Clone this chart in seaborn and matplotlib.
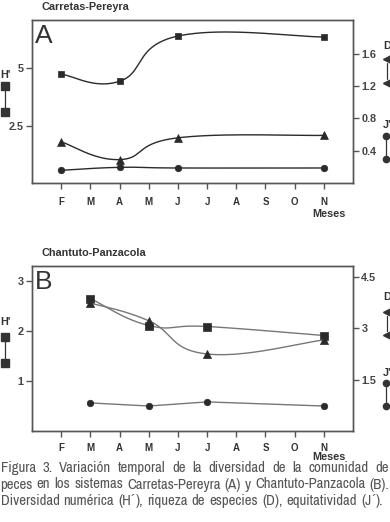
import numpy as np
import pandas as pd
import matplotlib
matplotlib.use("Agg")
import matplotlib.pyplot as plt
from matplotlib import font_manager
import seaborn as sns

sns.set_theme(style="white")

# ---- find a regular condensed family for the caption (if installed) ----
def _w(v):
    if isinstance(v, str):
        return font_manager.weight_dict.get(v, 400)
    return int(v)

_cands = {}
for _f in font_manager.fontManager.ttflist:
    if "Narrow" in _f.name or "Condensed" in _f.name:
        _cands.setdefault(_f.name, set()).add(_w(_f.weight))
_reg_narrow = sorted([n for n, ws in _cands.items() if any(350 <= w <= 500 for w in ws)])
CAP_FAM = [_reg_narrow[0]] if _reg_narrow else ([list(_cands)[0]] if _cands else [])
CAP_FAM += ["Liberation Sans", "DejaVu Sans"]
plt.rcParams['font.family'] = ["Liberation Sans", "DejaVu Sans"]

# ---------------- data ----------------
months = ["F", "M", "A", "M", "J", "J", "A", "S", "O", "N"]

# Panel A: Carretas-Pereyra (sampled at F, A, J, N)
a_pos = [0, 2, 4, 9]
a_H = [4.74, 4.43, 6.40, 6.36]     # left axis (squares)
a_D = [0.51, 0.29, 0.56, 0.59]     # right axis (triangles)
a_J = [0.157, 0.194, 0.186, 0.186] # right axis (circles)

# Panel B: Chantuto-Panzacola (sampled at M, M, J, N)
b_pos = [1, 3, 5, 9]
b_H = [2.65, 2.11, 2.09, 1.91]
b_D = [3.74, 3.22, 2.25, 2.66]
b_J = [0.82, 0.73, 0.85, 0.73]

caption_lines = [
    "Figura 3. Variación temporal de la diversidad de la comunidad de",
    "peces en los sistemas Carretas-Pereyra (A) y Chantuto-Panzacola (B).",
    "Diversidad numérica (H´), riqueza de especies (D), equitatividad (J´).",
]

W, H = 390, 522
fig = plt.figure(figsize=(W / 100, H / 100), dpi=100)


def catmull(x, y, n=60, k=1.3):
    """Cardinal (Catmull-Rom style) smoothing through the data points."""
    P = np.column_stack([np.asarray(x, float), np.asarray(y, float)])
    P = np.vstack([P[0], P, P[-1]])
    out = []
    t = np.linspace(0, 1, n)[:, None]
    for i in range(1, len(P) - 2):
        p0, p1, p2, p3 = P[i - 1], P[i], P[i + 1], P[i + 2]
        m1 = k * (p2 - p0) / 2
        m2 = k * (p3 - p1) / 2
        h00 = 2 * t**3 - 3 * t**2 + 1
        h10 = t**3 - 2 * t**2 + t
        h01 = -2 * t**3 + 3 * t**2
        h11 = t**3 - t**2
        out.append(h00 * p1 + h10 * m1 + h01 * p2 + h11 * m2)
    C = np.vstack(out)
    return C[:, 0], C[:, 1]


def fx(px):
    return px / W


def fy(py):
    return 1 - py / H


SP = "#555555"
TC = "#333333"


def make_panel(top, bot, lylim, rylim, lticks, lticklabels, rticks, rticklabels, xpad):
    ax = fig.add_axes([fx(32), fy(bot), fx(353) - fx(32), fy(top) - fy(bot)])
    ax2 = ax.twinx()
    ax.set_xlim(-1, 10)
    ax.set_ylim(*lylim)
    ax2.set_ylim(*rylim)
    for a in (ax, ax2):
        for s in a.spines.values():
            s.set_color(SP); s.set_linewidth(1.0); s.set_visible(True)
        a.set_facecolor("none")
    ax.set_xticks(range(10))
    ax.set_xticklabels(months, fontsize=7, fontweight="bold", color=TC)
    ax.set_yticks(lticks)
    ax.set_yticklabels(lticklabels, fontsize=7.8, fontweight="bold", color="#444444")
    ax2.set_yticks(rticks)
    ax2.set_yticklabels(rticklabels, fontsize=7.8, fontweight="bold", color="#444444")
    ax.tick_params(axis="x", direction="out", length=4, width=1, color=SP, pad=xpad, bottom=True)
    ax.tick_params(axis="y", direction="out", length=4, width=1, color=SP, pad=2, left=True)
    ax2.tick_params(axis="y", direction="out", length=4, width=1, color=SP, pad=2, right=True)
    ax.set_xlabel(""); ax.set_ylabel(""); ax2.set_ylabel("")
    ax.grid(False); ax2.grid(False)
    return ax, ax2


def draw(ax, pos, vals, marker, s, lc, smooth=True):
    if smooth:
        xs, ys = catmull(pos, vals)
    else:
        xs, ys = pos, vals
    ax.plot(xs, ys, color=lc, lw=1.0, zorder=2)
    sns.scatterplot(x=pos, y=vals, ax=ax, marker=marker, s=s, color="#2a2a2a",
                    edgecolor="#2a2a2a", linewidth=0.5, zorder=3, legend=False)


# ---------- Panel A ----------
axA, axA2 = make_panel(20, 183, (0, 7.1), (0, 2.02), [2.5, 5], ["2.5", "5"],
                       [0.4, 0.8, 1.2, 1.6], ["0.4", "0.8", "1.2", "1.6"], 6)
draw(axA, a_pos, a_H, "s", 20, "#2a2a2a")
draw(axA2, a_pos, a_D, "^", 32, "#2a2a2a")
draw(axA2, a_pos, a_J, "o", 22, "#2a2a2a")

# ---------- Panel B ----------
axB, axB2 = make_panel(266, 431, (0, 3.3), (0, 4.82), [1, 2, 3], ["1", "2", "3"],
                       [1.5, 3, 4.5], ["1.5", "3", "4.5"], 4.5)
draw(axB, b_pos, b_H, "s", 36, "#777777")
draw(axB2, b_pos, b_D, "^", 34, "#777777")
draw(axB2, b_pos, b_J, "o", 22, "#777777", smooth=False)

# ---------- texts ----------
fig.text(fx(42), fy(6.5), "Carretas-Pereyra", fontsize=7.8, fontweight="bold", color=TC, va="center")
fig.text(fx(42), fy(253), "Chantuto-Panzacola", fontsize=7.8, fontweight="bold", color=TC, va="center")
fig.text(fx(35), fy(36), "A", fontsize=19, color=TC, va="center")
fig.text(fx(35), fy(282), "B", fontsize=19, color=TC, va="center")
fig.text(fx(329), fy(214), "Meses", fontsize=7.8, fontweight="bold", color=TC, ha="center", va="center")
fig.text(fx(329), fy(457.5), "Meses", fontsize=7.8, fontweight="bold", color=TC, ha="center", va="center")


def vlegend(xp, xl, ylab, label, y1, y2, marker, ms):
    fig.text(fx(xl), fy(ylab), label, fontsize=7.8, fontweight="bold",
             color=TC, ha="left", va="center")
    fig.add_artist(plt.Line2D([fx(xp), fx(xp)], [fy(y1 + 4), fy(y2 - 4)], color=TC, lw=0.9))
    fig.add_artist(plt.Line2D([fx(xp), fx(xp)], [fy(y1), fy(y2)], ls="none", marker=marker,
                              ms=ms, color=TC))


vlegend(5, 0, 75, "H'", 86, 112, "s", 5.5)
vlegend(5, 0, 322, "H'", 337, 363, "s", 5.5)
vlegend(387, 383, 46, "D", 59, 83, "<", 5.5)
vlegend(386, 383, 125, "J'", 136, 159, "o", 4.5)
vlegend(387, 383, 297, "D", 312, 335, "<", 5.5)
vlegend(386, 383, 373, "J'", 383, 406, "o", 4.5)

# ---------- caption (justified lines) ----------
fig.canvas.draw()
renderer = fig.canvas.get_renderer()
cap_y = [468, 484.5, 501]
s0 = 9.0
ACC_FAM = ["Liberation Sans", "DejaVu Sans"]   # family that has the acute accent sign


def pieces(word):
    """split a word so that the acute accent sign gets a family that has it"""
    out, buf = [], ""
    for ch in word:
        if ch == "´":
            if buf:
                out.append((buf, CAP_FAM)); buf = ""
            out.append((ch, ACC_FAM))
        else:
            buf += ch
    if buf:
        out.append((buf, CAP_FAM))
    return out


probe = caption_lines[1].split(" ")
pts = [fig.text(0, 0, w, fontsize=s0, family=CAP_FAM) for w in probe]
tot = sum(t.get_window_extent(renderer).width for t in pts)
for t in pts:
    t.remove()
cap_fs = min(11.0, s0 * (W - 2 - 4.0 * (len(probe) - 1)) / tot)

for li, line in enumerate(caption_lines):
    words = line.split(" ")
    groups = []
    for w in words:
        g = []
        for txt, fam in pieces(w):
            t = fig.text(0, fy(cap_y[li]), txt, fontsize=cap_fs, color="#555555",
                         va="center", family=fam)
            g.append((t, t.get_window_extent(renderer).width))
        groups.append(g)
    widths = [sum(wd for _, wd in g) for g in groups]
    total = sum(widths)
    if li < 2:
        gap = (W - 1.5 - total) / (len(words) - 1)
    else:
        gap = 4.0
    xcur = 0.5
    for g, wd in zip(groups, widths):
        xx = xcur
        for t, w1 in g:
            t.set_x(fx(xx))
            xx += w1
        xcur += wd + gap

fig.savefig("out.png", dpi=100)
